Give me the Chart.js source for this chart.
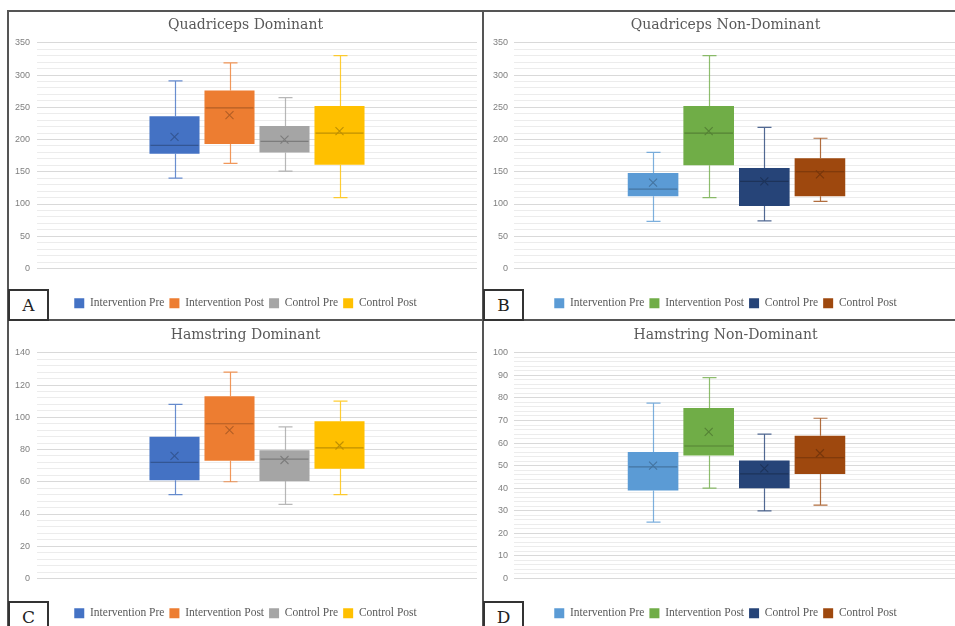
<!DOCTYPE html>
<html><head><meta charset="utf-8">
<script src="https://cdn.jsdelivr.net/npm/chart.js@4.4.1/dist/chart.umd.min.js"></script>
<style>
html,body{margin:0;padding:0;background:#fff}
body{width:955px;height:626px;overflow:hidden;position:relative}
canvas{position:absolute}
.ln{position:absolute;background:#555;z-index:2}
.tag{position:absolute;box-sizing:border-box;border:2px solid #333;background:#fff;z-index:3;
 font-family:"DejaVu Serif",serif;font-size:17px;color:#222;text-align:center;line-height:28px;width:41px;height:32px}
</style></head>
<body>
<canvas id="cA" style="left:8px;top:11px"></canvas>
<canvas id="cB" style="left:483px;top:11px"></canvas>
<canvas id="cC" style="left:8px;top:321px"></canvas>
<canvas id="cD" style="left:483px;top:321px"></canvas>
<div class="ln" style="left:7px;top:10px;width:2px;height:616px"></div>
<div class="ln" style="left:7px;top:10px;width:948px;height:2px"></div>
<div class="ln" style="left:482px;top:10px;width:2px;height:616px"></div>
<div class="ln" style="left:7px;top:319px;width:948px;height:2px"></div>
<div class="tag" style="left:8px;top:289px">A</div>
<div class="tag" style="left:483px;top:289px">B</div>
<div class="tag" style="left:8px;top:601px">C</div>
<div class="tag" style="left:483px;top:601px">D</div>
<script>
// ---- data ----
const seriesNames = ['Intervention Pre', 'Intervention Post', 'Control Pre', 'Control Post'];
const coloursDominant = ['#4472C4', '#ED7D31', '#A5A5A5', '#FFC000'];
const coloursNonDominant = ['#5B9BD5', '#70AD47', '#264478', '#9E480E'];

// Quadriceps Dominant
const qdMin = [140, 163, 151, 110];
const qdQ1 = [178, 193, 180, 161];
const qdMedian = [191, 249, 197, 210];
const qdQ3 = [236, 276, 221, 252];
const qdMax = [291, 319, 265, 330];
const qdMean = [204, 238, 200, 213];

// Quadriceps Non-Dominant
const qnMin = [73, 110, 74, 104];
const qnQ1 = [112, 160, 97, 112];
const qnMedian = [123, 210, 135, 150];
const qnQ3 = [148, 252, 156, 171];
const qnMax = [180, 330, 219, 202];
const qnMean = [133, 213, 135, 146];

// Hamstring Dominant
const hdMin = [52, 60, 46, 52];
const hdQ1 = [61, 73, 60.5, 68];
const hdMedian = [72, 96, 74, 81];
const hdQ3 = [88, 113, 79.5, 97.5];
const hdMax = [108, 128, 94, 110];
const hdMean = [76, 92, 73.5, 82.5];

// Hamstring Non-Dominant
const hnMin = [25, 40, 30, 32.5];
const hnQ1 = [39, 54.5, 40, 46.3];
const hnMedian = [49.5, 58.7, 46.4, 53.5];
const hnQ3 = [56, 75.5, 52.3, 63.3];
const hnMax = [77.7, 89, 64, 71];
const hnMean = [50, 65, 48.8, 55.5];

// ---- helpers ----
function shade(hex, f) {
  const n = parseInt(hex.slice(1), 16);
  const r = Math.round(((n >> 16) & 255) * f), g = Math.round(((n >> 8) & 255) * f), b = Math.round((n & 255) * f);
  return `rgb(${r},${g},${b})`;
}

const boxExtras = {
  id: 'boxExtras',
  beforeDatasetsDraw(chart, args, o) {
    const ctx = chart.ctx, y = chart.scales.y;
    ctx.save();
    chart.data.datasets.forEach((ds, i) => {
      const bar = chart.getDatasetMeta(i).data[0];
      const x = Math.round(bar.x) + 0.5;
      ctx.strokeStyle = o.colours[i];
      ctx.lineWidth = 1.2;
      ctx.globalAlpha = 0.8;
      const yMax = y.getPixelForValue(o.max[i]), yQ3 = y.getPixelForValue(o.q3[i]);
      const yMin = y.getPixelForValue(o.min[i]), yQ1 = y.getPixelForValue(o.q1[i]);
      ctx.beginPath();
      ctx.moveTo(x, yMax); ctx.lineTo(x, yQ3);
      ctx.moveTo(x, yQ1); ctx.lineTo(x, yMin);
      ctx.moveTo(x - 7, yMax); ctx.lineTo(x + 7, yMax);
      ctx.moveTo(x - 7, yMin); ctx.lineTo(x + 7, yMin);
      ctx.stroke();
    });
    ctx.restore();
  },
  afterDatasetsDraw(chart, args, o) {
    const ctx = chart.ctx, y = chart.scales.y;
    ctx.save();
    chart.data.datasets.forEach((ds, i) => {
      const bar = chart.getDatasetMeta(i).data[0];
      const x = bar.x, w = bar.width;
      const dark = shade(o.colours[i], 0.75);
      ctx.strokeStyle = dark;
      ctx.lineWidth = 1.2;
      const ym = y.getPixelForValue(o.median[i]);
      ctx.beginPath();
      ctx.moveTo(x - w / 2 + 1, ym); ctx.lineTo(x + w / 2 - 1, ym);
      ctx.stroke();
      const yMean = y.getPixelForValue(o.mean[i]);
      ctx.lineWidth = 1.1;
      ctx.beginPath();
      ctx.moveTo(x - 4, yMean - 4); ctx.lineTo(x + 4, yMean + 4);
      ctx.moveTo(x + 4, yMean - 4); ctx.lineTo(x - 4, yMean + 4);
      ctx.stroke();
    });
    ctx.restore();
  }
};

function makeChart(id, w, h, title, colours, mn, q1, med, q3, mx, mean, yMax, step, major, padLeft, yWidth, padRight, tickPad) {
  const cv = document.getElementById(id);
  cv.width = w; cv.height = h;
  cv.style.width = w + 'px'; cv.style.height = h + 'px';
  return new Chart(cv, {
    type: 'bar',
    data: {
      labels: [''],
      datasets: seriesNames.map((name, i) => ({
        label: name,
        data: [[q1[i], q3[i]]],
        backgroundColor: colours[i],
        borderColor: colours[i],
        borderWidth: 0,
        borderSkipped: false,
        categoryPercentage: 0.5,
        barPercentage: 0.91
      }))
    },
    options: {
      responsive: false,
      animation: false,
      devicePixelRatio: 1,
      layout: { padding: { left: padLeft, right: padRight, top: 0, bottom: 2 } },
      plugins: {
        title: {
          display: true, text: title, color: '#595959',
          font: { family: '"DejaVu Serif", serif', size: 14, weight: 'normal' },
          padding: { top: 6, bottom: 9 }
        },
        legend: {
          display: true, position: 'bottom',
          labels: {
            color: '#595959', boxWidth: 10, boxHeight: 10, padding: 5,
            font: { family: '"Liberation Serif", serif', size: 11.5 }
          }
        },
        tooltip: { enabled: false },
        boxExtras: { colours, min: mn, q1, median: med, q3, max: mx, mean }
      },
      scales: {
        x: {
          display: true,
          grid: { display: false },
          border: { display: false },
          ticks: { display: false },
          afterFit(s) { s.height = 24; }
        },
        y: {
          min: 0, max: yMax,
          grid: {
            drawTicks: false,
            color: c => (c.tick && c.tick.value % major === 0) ? '#d9d9d9' : '#ececec',
            lineWidth: 1
          },
          border: { display: false },
          ticks: {
            stepSize: step, autoSkip: false, padding: tickPad,
            color: '#7f7f7f',
            font: { family: '"Liberation Sans", sans-serif', size: 9 },
            callback: v => (v % major === 0 ? v : '')
          },
          afterFit(s) { s.width = yWidth; }
        }
      }
    },
    plugins: [boxExtras]
  });
}

makeChart('cA', 475, 310, 'Quadriceps Dominant', coloursDominant, qdMin, qdQ1, qdMedian, qdQ3, qdMax, qdMean, 350, 10, 50, 6, 23, 6, 7);
makeChart('cB', 486, 310, 'Quadriceps Non-Dominant', coloursNonDominant, qnMin, qnQ1, qnMedian, qnQ3, qnMax, qnMean, 350, 10, 50, 9, 22, 10, 6);
makeChart('cC', 475, 310, 'Hamstring Dominant', coloursDominant, hdMin, hdQ1, hdMedian, hdQ3, hdMax, hdMean, 140, 4, 20, 6, 23, 6, 7);
makeChart('cD', 486, 310, 'Hamstring Non-Dominant', coloursNonDominant, hnMin, hnQ1, hnMedian, hnQ3, hnMax, hnMean, 100, 2, 10, 9, 22, 10, 6);
</script>
</body></html>
